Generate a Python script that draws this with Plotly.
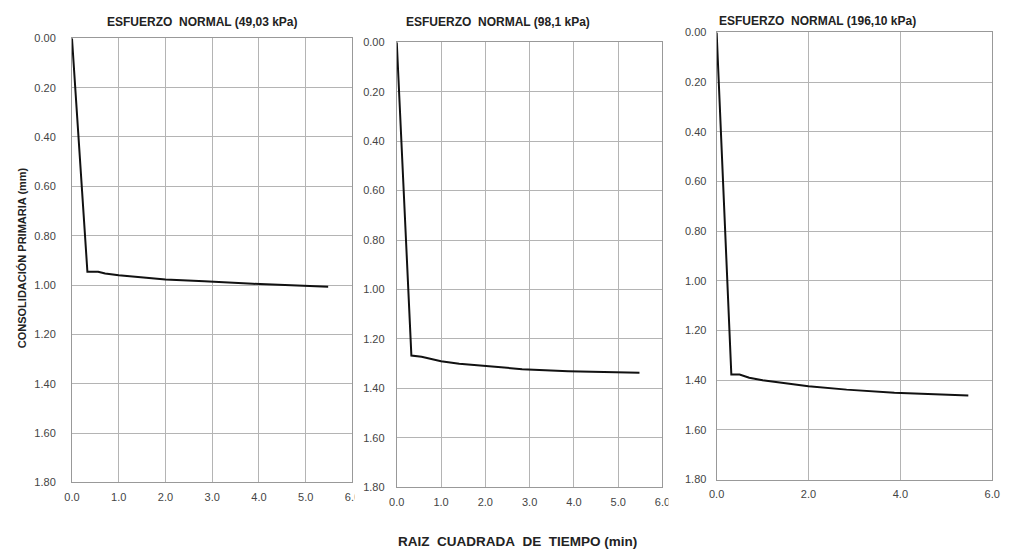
import plotly.graph_objects as go

W, H = 1013, 556

# Raiz cuadrada del tiempo (min^0.5) and consolidacion primaria (mm) per load step
t_sqrt_49 = [0.0, 0.33, 0.56, 0.71, 1.0, 1.41, 2.0, 2.83, 3.87, 5.48]
cons_49 = [0.0, 0.946, 0.946, 0.953, 0.960, 0.968, 0.977, 0.985, 0.995, 1.007]

t_sqrt_98 = [0.0, 0.33, 0.56, 0.71, 1.0, 1.41, 2.0, 2.83, 3.87, 5.48]
cons_98 = [0.0, 1.267, 1.272, 1.278, 1.290, 1.300, 1.310, 1.322, 1.330, 1.337]

t_sqrt_196 = [0.0, 0.32, 0.50, 0.71, 1.0, 1.41, 2.0, 2.83, 3.87, 5.48]
cons_196 = [0.0, 1.377, 1.377, 1.390, 1.400, 1.410, 1.424, 1.438, 1.451, 1.462]

titles = ["ESFUERZO  NORMAL (49,03 kPa)", "ESFUERZO  NORMAL (98,1 kPa)", "ESFUERZO  NORMAL (196,10 kPa)"]
x_title = "RAIZ  CUADRADA  DE  TIEMPO (min)"
y_title = "CONSOLIDACIÓN PRIMARIA (mm)"
y_ticks = [0.0, 0.2, 0.4, 0.6, 0.8, 1.0, 1.2, 1.4, 1.6, 1.8]
x_dticks = [1.0, 1.0, 2.0]

# plot-area boxes in pixels: (left, right, top, bottom)
boxes = [(65, 350, 33, 487), (395, 665, 37, 492), (720, 1000, 27, 484)]
label_gap = [13, 9, 7]
# panel title centres in pixels: (x, y)
title_pos = [(198, 16), (498, 16), (822, 15)]
# each chart's white background hides the right edge of its neighbour's last x label
clip_boxes = [(352, 361, 493, 510), (671, 680, 497, 514)]

series = [(t_sqrt_49, cons_49), (t_sqrt_98, cons_98), (t_sqrt_196, cons_196)]

FONT = "Liberation Sans, Arial, sans-serif"
GRID = "#b4b4b4"
FRAME = "#999999"


def keep_spaces(s):
    return s.replace("  ", "\u00a0\u00a0")


fig = go.Figure()
for i, ((xs, ys), (l, r, t, b)) in enumerate(zip(series, boxes)):
    n = "" if i == 0 else str(i + 1)
    fig.add_trace(go.Scatter(
        x=xs, y=ys, mode="lines", xaxis="x" + n, yaxis="y" + n,
        line=dict(color="#111111", width=2), showlegend=False,
    ))
    xa = dict(
        domain=[l / W, r / W], anchor="y" + n, range=[0, 6], dtick=x_dticks[i],
        tick0=0, tickformat=".1f", showgrid=True, gridcolor=GRID, gridwidth=1,
        showline=True, linecolor=FRAME, linewidth=1, mirror=True,
        ticks="", zeroline=False, ticklabelstandoff=4,
        tickfont=dict(family=FONT, size=11, color="#444444"),
    )
    ya = dict(
        domain=[1 - b / H, 1 - t / H], anchor="x" + n, range=[1.8, 0],
        tickvals=y_ticks, tickformat=".2f", showgrid=True, gridcolor=GRID,
        gridwidth=1, showline=True, linecolor=FRAME, linewidth=1,
        mirror=True, ticks="", zeroline=False, ticklabelstandoff=label_gap[i],
        tickfont=dict(family=FONT, size=11, color="#444444"),
    )
    fig.update_layout(**{"xaxis" + n: xa, "yaxis" + n: ya})
    tx, ty = title_pos[i]
    fig.add_annotation(
        x=tx / W, y=1 - ty / H, xref="paper", yref="paper",
        xanchor="center", yanchor="middle",
        text="<b>" + keep_spaces(titles[i]) + "</b>", showarrow=False,
        font=dict(family=FONT, size=12, color="#222222"),
    )

for x0, x1, y0, y1 in clip_boxes:
    fig.add_shape(
        type="rect", xref="paper", yref="paper", layer="above",
        x0=x0 / W, x1=x1 / W, y0=1 - y1 / H, y1=1 - y0 / H,
        fillcolor="white", line=dict(width=0),
    )

fig.add_annotation(
    x=518 / W, y=1 - 547 / H, xref="paper", yref="paper",
    xanchor="center", yanchor="middle",
    text="<b>" + keep_spaces(x_title) + "</b>", showarrow=False,
    font=dict(family=FONT, size=13.5, color="#222222"),
)
fig.add_annotation(
    x=15 / W, y=1 - 257 / H, xref="paper", yref="paper",
    xanchor="center", yanchor="middle", textangle=-90,
    text="<b>" + y_title + "</b>", showarrow=False,
    font=dict(family=FONT, size=11, color="#222222"),
)

fig.update_layout(
    width=W, height=H, margin=dict(l=0, r=0, t=0, b=0),
    paper_bgcolor="white", plot_bgcolor="white",
)

fig.write_html("out.html")
